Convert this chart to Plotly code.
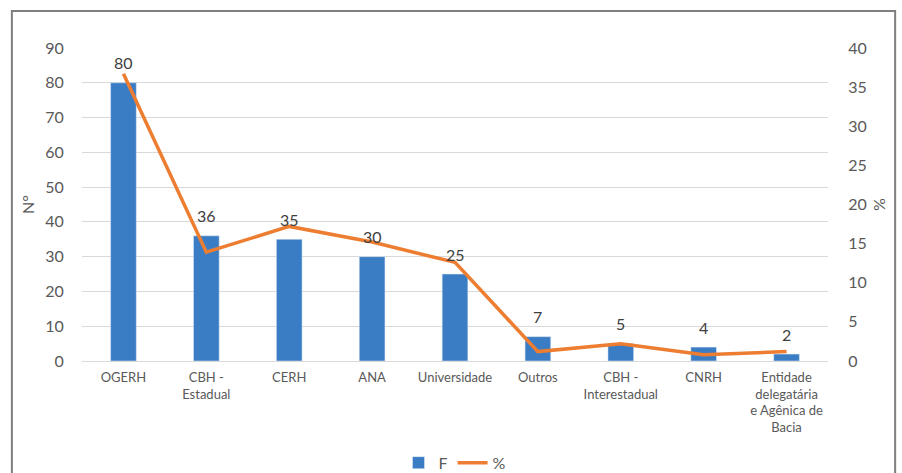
import plotly.graph_objects as go

categories = ["OGERH", "CBH -<br>Estadual", "CERH", "ANA", "Universidade", "Outros",
              "CBH -<br>Interestadual", "CNRH", "Entidade<br>delegatária<br>e Agênica de<br>Bacia"]
freq = [80, 36, 35, 30, 25, 7, 5, 4, 2]
pct = [36.7, 13.9, 17.2, 15.2, 12.6, 1.2, 2.2, 0.8, 1.2]
left_ticks = [0, 10, 20, 30, 40, 50, 60, 70, 80, 90]
right_ticks = [0, 5, 10, 15, 20, 25, 30, 35, 40]

FONT = "Lato, DejaVu Sans, sans-serif"
GREY = "#595959"

fig = go.Figure()
fig.add_trace(go.Bar(
    x=categories, y=freq, name="F", marker_color="#3B7DC4", width=0.31,
))
fig.add_trace(go.Scatter(
    x=categories, y=pct, name="%", yaxis="y2", mode="lines",
    line=dict(color="#ED7D31", width=3.5),
))

annotations = [
    dict(x=c, y=v, xref="x", yref="y", text=str(v), showarrow=False,
         yshift=20, yanchor="middle", font=dict(size=16, color="#404040", family=FONT))
    for c, v in zip(categories, freq)
]

fig.update_layout(
    width=902, height=473,
    margin=dict(l=82, r=74, t=48, b=112, autoexpand=False),
    paper_bgcolor="white", plot_bgcolor="white",
    font=dict(family=FONT, color=GREY),
    showlegend=True,
    annotations=annotations,
    legend=dict(orientation="h", x=0.5, xanchor="center", y=-0.325, yanchor="middle",
                font=dict(size=16, color=GREY), traceorder="normal"),
    xaxis=dict(tickfont=dict(size=13, color=GREY), showgrid=False, showline=False,
               ticks="outside", ticklen=4, tickcolor="rgba(0,0,0,0)", automargin=False),
    yaxis=dict(range=[0, 90], tickvals=left_ticks, showgrid=True, gridcolor="#D9D9D9",
               gridwidth=1, zeroline=True, zerolinecolor="#D9D9D9", zerolinewidth=1,
               tickfont=dict(size=16, color=GREY), ticks="outside", ticklen=14,
               tickcolor="rgba(0,0,0,0)", automargin=False,
               title=dict(text="N°", font=dict(size=16, color=GREY), standoff=6)),
    yaxis2=dict(range=[0, 40], tickvals=right_ticks, overlaying="y", side="right",
                showgrid=False, zeroline=False, automargin=False,
                tickfont=dict(size=16, color=GREY), ticks="outside", ticklen=16,
                tickcolor="rgba(0,0,0,0)",
                title=dict(text="%", font=dict(size=16, color=GREY), standoff=8)),
    shapes=[dict(type="rect", xref="paper", yref="paper",
                 x0=-0.094, x1=1.090, y0=-0.6, y1=1.118,
                 line=dict(color="#7F7F7F", width=2), fillcolor="rgba(0,0,0,0)", layer="below")],
)

fig.write_html("out.html")
